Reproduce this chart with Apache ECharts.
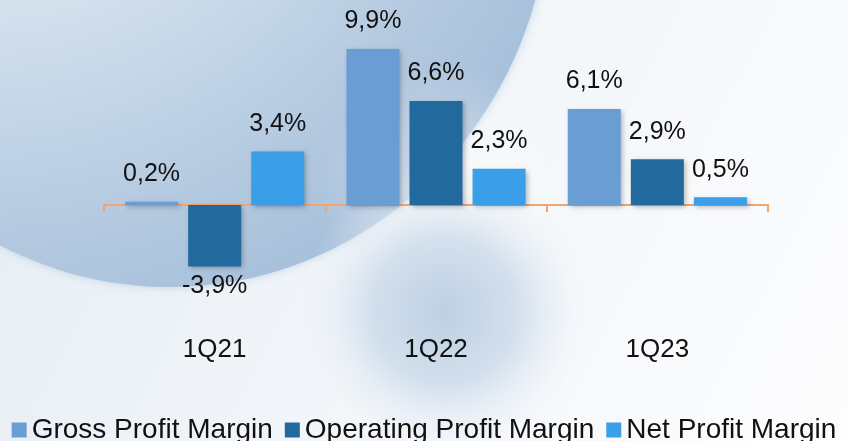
<!DOCTYPE html>
<html>
<head>
<meta charset="utf-8">
<script src="https://cdn.jsdelivr.net/npm/echarts@6/dist/echarts.min.js"></script>
<style>
html,body{margin:0;padding:0;background:#fff;}
#c{width:848px;height:441px;}
</style>
</head>
<body>
<div id="c"></div>
<script>
const categories = ['1Q21', '1Q22', '1Q23'];
const seriesNames = ['Gross Profit Margin', 'Operating Profit Margin', 'Net Profit Margin'];
const grossMargin = [0.2, 9.9, 6.1];
const operatingMargin = [-3.9, 6.6, 2.9];
const netMargin = [3.4, 2.3, 0.5];
const colors = ['#6b9dd5', '#22699e', '#3a9fe8'];

const FONT = "'Liberation Sans', Arial, sans-serif";
const fmt = v => v.toFixed(1).replace('.', ',') + '%';

function mkData(arr) {
  return arr.map(v => ({
    value: v,
    label: { position: v < 0 ? 'bottom' : 'top', distance: v < 0 ? 7 : 15 }
  }));
}

function mkSeries(name, arr, color) {
  return {
    name: name,
    type: 'bar',
    xAxisIndex: 0,
    data: mkData(arr),
    barWidth: 53,
    barGap: '19%',
    itemStyle: {
      color: color,
      shadowBlur: 5,
      shadowColor: 'rgba(0,0,0,0.28)',
      shadowOffsetX: 2,
      shadowOffsetY: 2
    },
    label: {
      show: true,
      formatter: p => fmt(p.value),
      fontFamily: FONT,
      fontSize: 25,
      color: '#111'
    }
  };
}

const G = echarts.graphic;
const chart = echarts.init(document.getElementById('c'));
chart.setOption({
  animation: false,
  backgroundColor: '#f7f9fb',
  graphic: [
    {
      type: 'rect', silent: true, z: -10,
      shape: { x: 0, y: 0, width: 848, height: 441 },
      style: {
        fill: new G.LinearGradient(0, 0, 848, 441, [
          { offset: 0, color: '#e4ecf3' },
          { offset: 0.45, color: '#f1f5f9' },
          { offset: 1, color: '#fdfdfe' }
        ], true)
      }
    },
    {
      type: 'ellipse', silent: true, z: -9,
      shape: { cx: 170, cy: -110, rx: 380, ry: 397 },
      style: {
        fill: new G.RadialGradient(-20, -300, 650, [
          { offset: 0, color: '#eaf0f6' },
          { offset: 0.42, color: '#d9e4ef' },
          { offset: 0.65, color: '#c3d5e7' },
          { offset: 0.85, color: '#b2c8df' },
          { offset: 1, color: '#a7c0db' }
        ], true),
        shadowBlur: 10,
        shadowColor: 'rgba(175,198,222,0.7)'
      }
    },
    {
      type: 'circle', silent: true, z: -8,
      shape: { cx: 450, cy: 195, r: 130 },
      style: {
        fill: new G.RadialGradient(450, 195, 130, [
          { offset: 0, color: 'rgba(255,255,255,0.55)' },
          { offset: 1, color: 'rgba(255,255,255,0)' }
        ], true)
      }
    },
    {
      type: 'circle', silent: true, z: -7,
      shape: { cx: 445, cy: 300, r: 145 },
      style: {
        fill: new G.RadialGradient(445, 312, 145, [
          { offset: 0, color: 'rgba(186,205,226,0.95)' },
          { offset: 0.5, color: 'rgba(196,213,231,0.7)' },
          { offset: 1, color: 'rgba(235,241,247,0)' }
        ], true)
      }
    }
  ],
  legend: {
    data: seriesNames,
    left: 'center',
    top: 411,
    icon: 'rect',
    itemWidth: 15,
    itemHeight: 15,
    itemGap: 12,
    textStyle: { fontFamily: FONT, fontSize: 28, color: '#111' }
  },
  grid: { left: 104, right: 80, top: 47.5, bottom: 110, containLabel: false, outerBoundsMode: 'none' },
  xAxis: [
    {
      type: 'category',
      data: categories,
      position: 'bottom',
      axisLine: { onZero: true, lineStyle: { color: '#f4a46c', width: 2 } },
      axisTick: { show: true, alignWithLabel: false, length: 7, lineStyle: { color: '#f4a46c', width: 2 } },
      axisLabel: { show: false },
      splitLine: { show: false }
    },
    {
      type: 'category',
      data: categories,
      position: 'bottom',
      axisLine: { show: false, onZero: false },
      axisTick: { show: false },
      axisLabel: { margin: 6, fontFamily: FONT, fontSize: 26, color: '#111' },
      splitLine: { show: false }
    }
  ],
  yAxis: {
    type: 'value',
    min: -8,
    max: 10,
    show: false,
    splitLine: { show: false }
  },
  series: [
    mkSeries(seriesNames[0], grossMargin, colors[0]),
    mkSeries(seriesNames[1], operatingMargin, colors[1]),
    mkSeries(seriesNames[2], netMargin, colors[2])
  ]
});
</script>
</body>
</html>
